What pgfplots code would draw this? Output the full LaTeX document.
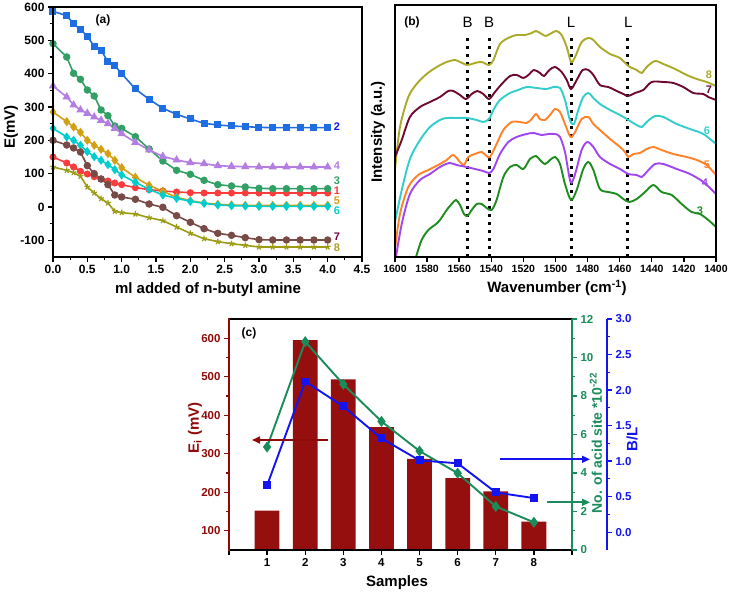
\documentclass[border=0pt]{standalone}
\usepackage{fontspec}
\setmainfont{Liberation Sans}
\usepackage{pgfplots}
\pgfplotsset{compat=1.18}
\usepackage{pgfplotstable}
\usetikzlibrary{arrows.meta}

\definecolor{cA1}{RGB}{250,60,60}
\definecolor{cA2}{RGB}{30,110,225}
\definecolor{cA3}{RGB}{50,160,100}
\definecolor{cA4}{RGB}{180,125,225}
\definecolor{cA5}{RGB}{210,160,20}
\definecolor{cA6}{RGB}{0,205,205}
\definecolor{cA7}{RGB}{120,75,70}
\definecolor{cA8}{RGB}{155,155,20}
\definecolor{lA2}{RGB}{20,20,230}
\definecolor{lA7}{RGB}{120,0,70}
\definecolor{lA8}{RGB}{170,160,40}
\definecolor{cB3}{RGB}{30,140,30}
\definecolor{cB4}{RGB}{160,70,240}
\definecolor{cB5}{RGB}{255,130,40}
\definecolor{cB6}{RGB}{50,205,205}
\definecolor{cB7}{RGB}{110,10,50}
\definecolor{cB8}{RGB}{170,170,40}
\definecolor{cbar}{RGB}{150,15,15}
\definecolor{cred}{RGB}{145,10,10}
\definecolor{cgreen}{RGB}{25,140,90}
\definecolor{cblue}{RGB}{20,20,240}

\pgfplotstableread{
x s1 s2 s3 s4 s5 s6 s7 s8
0 150 587 490 363 285 236 200 120
0.2 132 574 450 330 256 210 186 110
0.3 120 550 401 306 240 200 177 103
0.4 107 532 383 291 224 185 165 92
0.5 99 512 351 281 200 166 124 60
0.6 91 482 333 270 185 151 100 42
0.7 84 470 291 260 173 140 84 25
0.8 78 436 274 250 160 127 67 12
0.9 72 424 243 236 140 112 36 -13
1.0 67 400 236 220 118 96 30 -17
1.2 58 354 211 194 89 74 23 -21
1.4 52 323 174 171 65 53 9 -32
1.6 48 296 138 152 47 36 -1 -41
1.8 45 278 110 141 29 26 -26 -60
2.0 43 264 98 133 19 17 -46 -79
2.2 42 251 80 130 12 11 -65 -95
2.4 42 246 67 124 8 6 -79 -104
2.6 42 243 63 122 6 4 -85 -110
2.8 42 241 60 121 5 3 -92 -115
3.0 42 239 56 120 5 2 -98 -120
3.2 42 238 55 120 5 2 -99 -120
3.4 42 238 55 120 5 2 -99 -120
3.6 42 238 55 120 5 2 -99 -120
3.8 42 238 55 120 5 2 -99 -120
4.0 42 238 55 120 5 2 -99 -120
}\tabA

\pgfplotstableread{
w v
1600 88
1596.9 130
1591.7 160
1586.5 173
1580.3 183
1574 190
1567.8 195
1562.6 197
1559.5 195
1554.9 192
1550.2 194
1546 195
1541.4 192
1538.7 197
1534.6 213
1529.4 219
1524.2 222
1519 222
1514.8 224
1512.1 226
1508.6 223
1505.9 221
1502.4 224
1499.3 226
1496.2 222
1493 210
1490.3 195
1487.8 200
1483.7 215
1479.5 219
1476.4 217
1472.3 210
1466 203
1459.8 199
1454.6 191
1449.4 187
1446.3 184
1443.2 190
1438 196
1432.8 193
1425.5 188
1418.3 182
1412 178
1405.8 175
1400 171
}\tabBeight

\pgfplotstableread{
w v
1600 100
1595.8 117
1590.7 140
1584.4 150
1578.2 155
1572 160
1566.8 166
1563.7 166
1559.5 162
1555.8 158
1552.2 163
1548.7 166
1545 163
1541.4 158
1537.7 165
1533.5 173
1528.3 181
1524.2 182
1520 179
1516.9 182
1513.4 187
1509.7 184
1507.2 181
1503.8 187
1500.3 190
1496.2 185
1493 177
1490.3 168
1486.8 177
1483.1 187
1479.5 187
1476.4 182
1472.3 172
1467.1 170
1461.9 166
1457.7 163
1454.6 161
1450.5 164
1445.3 167
1440.1 175
1432.8 175
1426.6 174
1420.4 170
1414.1 164
1407.9 163
1404.8 160
1400 157
}\tabBseven

\pgfplotstableread{
w v
1600 35
1595.8 67
1590.7 98
1584.4 117
1578.2 130
1572 137
1567.8 139
1561.6 139
1555.3 139
1549.1 137
1545 135
1541.4 138
1538.7 147
1534.6 157
1528.3 164
1523.2 167
1518 170
1511.7 169
1505.5 168
1501.3 170
1497.2 169
1494.1 157
1491 137
1488.5 133
1485.8 147
1482.7 160
1479.5 164
1476.4 159
1472.3 153
1466 147
1459.8 142
1454.6 137
1449.4 132
1446.3 130
1443.2 135
1438 141
1432.8 140
1424.5 133
1416.2 128
1407.9 123
1400 113
}\tabBsix

\pgfplotstableread{
w v
1600 8
1596.9 43
1591.7 70
1585.5 82
1579.2 87
1572 93
1567.8 97
1563.7 102
1559.5 95
1557 92
1554.3 100
1550.2 103
1546 105
1542.9 101
1540.8 100
1536.7 113
1532.5 127
1527.3 135
1522.1 135
1518 134
1514.8 138
1512.1 143
1509.7 138
1506.5 137
1503.4 142
1500.3 148
1497.2 145
1494.1 133
1490.6 120
1487.8 125
1483.7 138
1479.5 140
1476.4 133
1472.3 127
1466 118
1459.8 110
1456.7 105
1454.6 100
1451.5 103
1447.4 104
1443.2 108
1439 110
1433.9 107
1426.6 103
1418.3 100
1412 97
1405.8 92
1400 82
}\tabBfive

\pgfplotstableread{
w v
1599.4 0
1595.8 33
1590.7 63
1584.4 77
1578.2 83
1572 90
1566.1 94
1561.6 92
1555.3 90
1550.2 88
1545 86
1541.4 84
1538.7 88
1534.6 103
1529.4 115
1524.2 120
1518 123
1513.8 124
1508.6 122
1504.5 123
1500.3 123
1497.2 120
1494.1 105
1490.6 75
1487.8 83
1483.7 107
1480.2 115
1476.4 110
1472.3 100
1466 93
1459.8 88
1454.6 83
1449.4 82
1446.3 80
1443.2 85
1438 93
1432.8 93
1424.5 88
1416.2 83
1407.9 75
1400 63
}\tabBfour

\pgfplotstableread{
w v
1586.9 0
1583.4 17
1579.2 27
1573 35
1567.8 47
1564.7 53
1562 57
1559.5 52
1557 43
1554.9 41
1552.2 47
1549.1 53
1546 53
1542.9 49
1539.8 47
1536.7 57
1532.5 80
1528.3 90
1524.2 92
1520 88
1515.9 98
1512.1 101
1509.7 97
1506.5 93
1503.4 97
1500.3 100
1497.2 93
1494.1 73
1490.3 57
1486.8 67
1482.7 88
1479.5 95
1476.4 87
1472.3 68
1467.1 65
1461.9 63
1457.7 58
1454 55
1449.4 58
1444.2 65
1439 72
1433.9 65
1427.6 62
1421.4 53
1415.2 45
1410 43
1404.8 37
1400 30
}\tabBthree

\pgfplotstableread{
s E N BL
1 152 5.35 0.66
2 595 10.82 2.12
3 493 8.61 1.77
4 369 6.68 1.32
5 287 5.14 1.01
6 237 3.99 0.97
7 202 2.26 0.56
8 124 1.44 0.48
}\tabC

\pgfplotsset{
  ticklab/.style={tick label style={font=\fontsize{#1}{#1}\selectfont\bfseries}},
  /pgf/number format/assume math mode=true,
}

\begin{document}
\begin{tikzpicture}
\useasboundingbox (0pt,0pt) rectangle (732pt,595pt);

% ---------------- panel (a)
\begin{axis}[
  at={(53pt,338pt)}, anchor=south west, scale only axis,
  width=309pt, height=250pt,
  xmin=0, xmax=4.5, ymin=-150, ymax=600,
  xtick={0,0.5,1,1.5,2,2.5,3,3.5,4,4.5},
  ytick={-100,0,100,200,300,400,500,600},
  minor x tick num=1, minor y tick num=1,
  tick align=outside, xtick pos=bottom, ytick pos=left,
  axis line style={line width=2.2pt},
  major tick style={black, line width=1.4pt},
  minor tick style={black, line width=1.1pt},
  major tick length=5pt, minor tick length=3pt,
  ticklab=12,
  xticklabel style={/pgf/number format/fixed, /pgf/number format/fixed zerofill, /pgf/number format/precision=1},
  clip=false,
]
\addplot[cA1, line width=1.6pt, mark=*, mark size=2.7pt] table[x=x,y=s1] {\tabA};
\addplot[cA2, line width=1.6pt, mark=square*, mark size=2.7pt] table[x=x,y=s2] {\tabA};
\addplot[cA3, line width=1.6pt, mark=*, mark size=2.9pt] table[x=x,y=s3] {\tabA};
\addplot[cA4, line width=1.6pt, mark=triangle*, mark size=3.3pt] table[x=x,y=s4] {\tabA};
\addplot[cA5, line width=1.6pt, mark=diamond*, mark size=3.3pt] table[x=x,y=s5] {\tabA};
\addplot[cA6, line width=1.6pt, mark=diamond*, mark size=3.3pt] table[x=x,y=s6] {\tabA};
\addplot[cA7, line width=1.6pt, mark=*, mark size=2.9pt] table[x=x,y=s7] {\tabA};
\addplot[cA8, line width=1.6pt, mark=star, mark size=3pt, mark options={line width=1.2pt}] table[x=x,y=s8] {\tabA};
\end{axis}
\fill[black] (51.8pt,336.8pt) rectangle (363.2pt,339.2pt);
\fill[black] (51.8pt,586.8pt) rectangle (363.2pt,589.2pt);
\fill[black] (51.8pt,336.8pt) rectangle (54.2pt,589.2pt);
\fill[black] (360.8pt,336.8pt) rectangle (363.2pt,589.2pt);
\node[font=\fontsize{12}{13}\selectfont\bfseries] at (103pt,575pt) {(a)};
\node[rotate=90, font=\fontsize{15}{18}\selectfont\bfseries] at (11pt,468pt) {E(mV)};
\node[font=\fontsize{15}{18}\selectfont\bfseries] at (208pt,305pt) {ml added of n-butyl amine};
\begin{scope}[every node/.style={font=\fontsize{11}{12}\selectfont\bfseries}]
\node[text=lA2] at (337pt,468pt) {2};
\node[text=cA4] at (337pt,429pt) {4};
\node[text=cA3] at (337pt,414pt) {3};
\node[text=cA1] at (337pt,404pt) {1};
\node[text=cA5] at (337pt,394pt) {5};
\node[text=cA6] at (337pt,384pt) {6};
\node[text=lA7] at (337pt,358pt) {7};
\node[text=lA8] at (337pt,347pt) {8};
\end{scope}

% ---------------- panel (b)
\begin{axis}[
  at={(395pt,338pt)}, anchor=south west, scale only axis,
  width=321pt, height=252pt,
  xmin=1400, xmax=1600, x dir=reverse, ymin=0, ymax=252,
  xtick={1400,1420,...,1600}, ytick=\empty,
  tick align=outside, xtick pos=bottom,
  axis line style={line width=2.2pt},
  major tick style={black, line width=1.4pt},
  major tick length=5pt,
  ticklab=10.5,
  xticklabel style={/pgf/number format/set thousands separator={}},
  clip=false,
]
\foreach \xx in {1555,1541,1490,1455} {
  \edef\temp{\noexpand\addplot[black, line width=2.6pt, dash pattern=on 2.6pt off 5.4pt] coordinates {(\xx,0) (\xx,222)};}
  \temp
}
\addplot[cB8, line width=1.9pt, smooth, tension=0.5] table[x=w,y=v] {\tabBeight};
\addplot[cB7, line width=1.9pt, smooth, tension=0.5] table[x=w,y=v] {\tabBseven};
\addplot[cB6, line width=1.9pt, smooth, tension=0.5] table[x=w,y=v] {\tabBsix};
\addplot[cB5, line width=1.9pt, smooth, tension=0.5] table[x=w,y=v] {\tabBfive};
\addplot[cB4, line width=1.9pt, smooth, tension=0.5] table[x=w,y=v] {\tabBfour};
\addplot[cB3, line width=1.9pt, smooth, tension=0.5] table[x=w,y=v] {\tabBthree};
\end{axis}
\fill[black] (393.8pt,336.8pt) rectangle (717.2pt,339.2pt);
\fill[black] (393.8pt,588.8pt) rectangle (717.2pt,591.2pt);
\fill[black] (393.8pt,336.8pt) rectangle (396.2pt,591.2pt);
\fill[black] (714.8pt,336.8pt) rectangle (717.2pt,591.2pt);
\node[font=\fontsize{12}{13}\selectfont\bfseries] at (412pt,573pt) {(b)};
\node[rotate=90, font=\fontsize{15}{18}\selectfont\bfseries] at (378pt,463pt) {Intensity (a.u.)};
\node[font=\fontsize{15}{18}\selectfont\bfseries] at (557pt,307pt) {Wavenumber (cm\textsuperscript{-1})};
\begin{scope}[every node/.style={font=\fontsize{15}{16}\selectfont}]
\node at (467.7pt,573pt) {B};
\node at (489pt,573pt) {B};
\node at (571pt,573pt) {L};
\node at (628.3pt,573pt) {L};
\end{scope}
\begin{scope}[every node/.style={font=\fontsize{11}{12}\selectfont\bfseries}]
\node[text=cB8] at (709pt,520pt) {8};
\node[text=cB7] at (709pt,505pt) {7};
\node[text=cB6] at (707pt,464pt) {6};
\node[text=cB5] at (707pt,430pt) {5};
\node[text=cB4] at (705pt,412pt) {4};
\node[text=cB3] at (700pt,384pt) {3};
\end{scope}

% ---------------- panel (c)
\begin{axis}[
  at={(229pt,45pt)}, anchor=south west, scale only axis,
  width=343pt, height=231pt,
  xmin=0, xmax=9, ymin=50, ymax=650,
  axis x line=box, axis y line=left,
  x axis line style={-, line width=2.2pt, black},
  y axis line style={-, line width=2.2pt, cred},
  xtick={0,1,2,3,4,5,6,7,8,9}, xticklabels={,1,2,3,4,5,6,7,8,},
  ytick={100,200,300,400,500,600}, minor y tick num=1,
  tick align=outside, xtick pos=bottom, ytick pos=left,
  xtick style={black, line width=1.4pt},
  ytick style={cred, line width=1.4pt},
  minor y tick style={cred, line width=1.1pt},
  major tick length=5pt, minor tick length=3pt,
  ticklab=11.5,
  yticklabel style={text=cred},
]
\addplot[ybar, bar width=0.65, fill=cbar, draw=none] table[x=s,y=E] {\tabC};
\end{axis}
\fill[black] (227.8pt,274.8pt) rectangle (573.2pt,277.2pt);
\fill[black] (227.8pt,43.8pt) rectangle (573.2pt,46.2pt);
\fill[cred] (227.8pt,43.8pt) rectangle (230.2pt,277.2pt);
\begin{axis}[
  at={(229pt,45pt)}, anchor=south west, scale only axis,
  width=343pt, height=231pt,
  xmin=0, xmax=9, ymin=0, ymax=12,
  axis x line=none, axis y line=right,
  y axis line style={-, line width=2.2pt, cgreen},
  ytick={0,2,4,6,8,10,12}, minor y tick num=1,
  tick align=outside,
  ytick style={cgreen, line width=1.4pt},
  minor y tick style={cgreen, line width=1.1pt},
  major tick length=5pt, minor tick length=3pt,
  ticklab=11.5,
  yticklabel style={text=cgreen},
]
\addplot[cgreen, line width=1.9pt, mark=diamond*, mark size=4pt] table[x=s,y=N] {\tabC};
\end{axis}
\begin{axis}[
  at={(229pt,45pt)}, anchor=south west, scale only axis,
  width=378pt, height=231pt,
  xmin=0, xmax=9.918, ymin=-0.25, ymax=3,
  axis x line=none, axis y line=right,
  y axis line style={-, line width=2.2pt, cblue},
  ytick={0,0.5,1,1.5,2,2.5,3}, minor y tick num=1,
  tick align=outside,
  ytick style={cblue, line width=1.4pt},
  minor y tick style={cblue, line width=1.1pt},
  major tick length=5pt, minor tick length=3pt,
  ticklab=11.5,
  yticklabel style={text=cblue, /pgf/number format/fixed, /pgf/number format/fixed zerofill, /pgf/number format/precision=1},
]
\addplot[cblue, line width=1.9pt, mark=square*, mark size=3pt] table[x=s,y=BL] {\tabC};
\end{axis}
\draw[cred, line width=1.6pt, -{Triangle[length=8pt,width=7pt]}] (328pt,155pt) -- (252pt,155pt);
\draw[cblue, line width=1.6pt, -{Triangle[length=8pt,width=7pt]}] (500pt,135.7pt) -- (590pt,135.7pt);
\draw[cgreen, line width=1.6pt, -{Triangle[length=8pt,width=7pt]}] (546.7pt,92.7pt) -- (590pt,92.7pt);
\node[font=\fontsize{12}{13}\selectfont\bfseries] at (249pt,262pt) {(c)};
\node[font=\fontsize{15}{18}\selectfont\bfseries] at (397pt,12pt) {Samples};
\node[rotate=90, text=cred, font=\fontsize{15}{18}\selectfont\bfseries] at (195pt,167pt) {E\textsubscript{i} (mV)};
\node[rotate=90, text=cgreen, font=\fontsize{14}{16}\selectfont\bfseries] at (596pt,152pt) {No. of acid site *10\textsuperscript{-22}};
\node[rotate=90, text=cblue, font=\fontsize{15}{18}\selectfont\bfseries] at (632pt,156pt) {B/L};
\end{tikzpicture}
\end{document}
